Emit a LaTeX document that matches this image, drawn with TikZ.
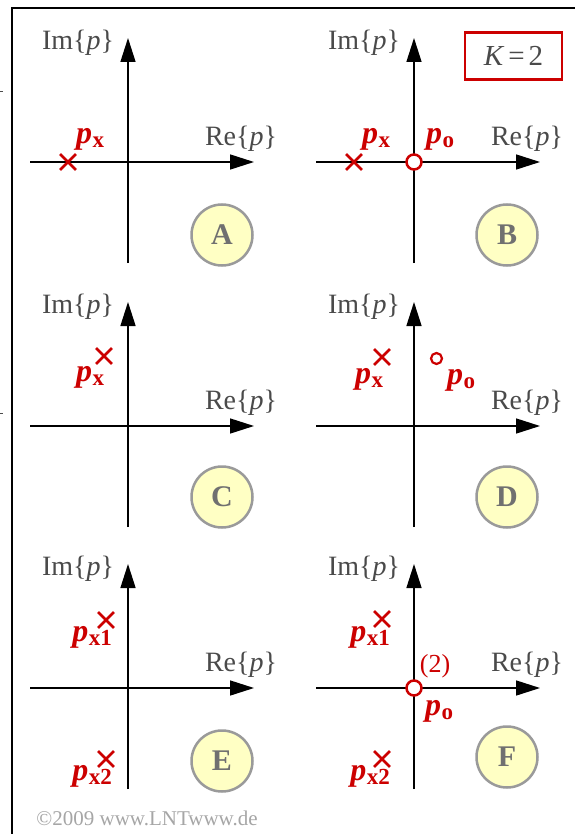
\documentclass[tikz,border=0pt]{standalone}
\usepackage{fontspec}
\setmainfont{Liberation Serif}
\usetikzlibrary{arrows.meta,shapes.misc}
\definecolor{lred}{HTML}{CC0000}
\definecolor{lgray}{HTML}{4A4A4A}
\definecolor{cfill}{HTML}{FFFFC4}
\definecolor{cdraw}{HTML}{9A9A9A}
\definecolor{ltext}{HTML}{707070}
\newcommand{\plab}[1]{\textbf{\textit{p}}\kern0.5pt\raisebox{-0.3ex}{\fontsize{23}{23}\selectfont\textbf{#1}}}
\tikzset{
  axisline/.style={line width=1.5pt,-{Triangle[length=24pt,width=15pt]}},
  lbl/.style={text=lgray,font=\fontsize{28}{28}\selectfont,inner sep=0pt},
  rlbl/.style={text=lred,font=\fontsize{32}{32}\selectfont,inner sep=0pt},
  pole/.style={cross out,draw=lred,line width=2.8pt,minimum size=13pt,inner sep=0pt},
  zerobig/.style={circle,draw=lred,fill=white,line width=2.5pt,minimum size=15pt,inner sep=0pt},
  zerosmall/.style={circle,draw=lred,fill=white,line width=2.2pt,minimum size=11pt,inner sep=0pt},
  badge/.style={circle,fill=cfill,draw=cdraw,line width=2.5pt,minimum size=61pt,inner sep=0pt,
    text=ltext,font=\fontsize{30}{30}\selectfont\bfseries},
  plane/.pic={
    \coordinate (-o) at (0,0);
    \coordinate (-l) at (-98,0);
    \coordinate (-r) at (126,0);
    \coordinate (-t) at (0,-124);
    \coordinate (-b) at (0,101);
    \draw[axisline] (-l) -- (-r);
    \draw[axisline] (-b) -- (-t);
    \node[lbl] (-im) at (-50,-119) {Im\{\textit{p}\}};
    \node[lbl] (-re) at (113,-23) {Re\{\textit{p}\}};
  }
}
\begin{document}
\begin{tikzpicture}[x=1pt,y=-1pt]
\useasboundingbox (0,0) rectangle (575,834);
\fill[white] (0,0) rectangle (575,834);
% frame
\coordinate (fbl) at (12,834);
\coordinate (ftl) at (12,8);
\coordinate (ftr) at (575,8);
\draw[line width=2pt] (fbl) -- (ftl) -- (ftr);
\coordinate (m1a) at (0,91); \coordinate (m1b) at (3,91);
\coordinate (m2a) at (0,413); \coordinate (m2b) at (3,413);
\draw[line width=0.8pt,black!70] (m1a) -- (m1b) (m2a) -- (m2b);

% panels
\pic (A) at (128,162) {plane};
\pic (B) at (414,162) {plane};
\pic (C) at (128,426) {plane};
\pic (D) at (414,426) {plane};
\pic (E) at (128,688) {plane};
\pic (F) at (414,688) {plane};

% A
\node[pole] (Apx) at (68,162) {};
\node[rlbl] (Apxl) at (90,139) {\plab{x}};
\node[badge] (Abadge) at (222,235) {A};

% B
\node[pole] (Bpx) at (354,162) {};
\node[rlbl] (Bpxl) at (376,139) {\plab{x}};
\node[zerobig] (Bpo) at (414,162) {};
\node[rlbl] (Bpol) at (440,139) {\plab{o}};
\node[badge] (Bbadge) at (507,235) {B};
\node[draw=lred,line width=2.5pt,minimum width=97pt,minimum height=47pt,inner sep=0pt,
      text=lgray,font=\fontsize{29}{29}\selectfont] (K) at (513.5,56) {\textit{K}\kern4pt=\kern4pt2};

% C
\node[pole] (Cpx) at (104,356) {};
\node[rlbl] (Cpxl) at (90,377) {\plab{x}};
\node[badge] (Cbadge) at (222,497) {C};

% D
\node[pole] (Dpx) at (382,357) {};
\node[rlbl] (Dpxl) at (369,379) {\plab{x}};
\node[zerosmall] (Dpo) at (436.5,358.5) {};
\node[rlbl] (Dpol) at (461,380) {\plab{o}};
\node[badge] (Dbadge) at (507,497) {D};

% E
\node[pole] (Epx1) at (106,620) {};
\node[rlbl] (Epx1l) at (92,637) {\plab{x1}};
\node[pole] (Epx2) at (106,759) {};
\node[rlbl] (Epx2l) at (92,776) {\plab{x2}};
\node[badge] (Ebadge) at (222,761) {E};

% F
\node[pole] (Fpx1) at (382,619) {};
\node[rlbl] (Fpx1l) at (370,637) {\plab{x1}};
\node[pole] (Fpx2) at (382,759) {};
\node[rlbl] (Fpx2l) at (370,776) {\plab{x2}};
\node[zerobig] (Fpo) at (414,688) {};
\node[rlbl,font=\fontsize{26}{26}\selectfont] (Fmult) at (435,666) {(2)};
\node[rlbl] (Fpol) at (439,711) {\plab{o}};
\node[badge] (Fbadge) at (507,757) {F};

% copyright
\node[text=black!35,font=\fontsize{21}{21}\selectfont,inner sep=0pt] (copy) at (147,818) {©2009 www.LNTwww.de};
\end{tikzpicture}
\end{document}
